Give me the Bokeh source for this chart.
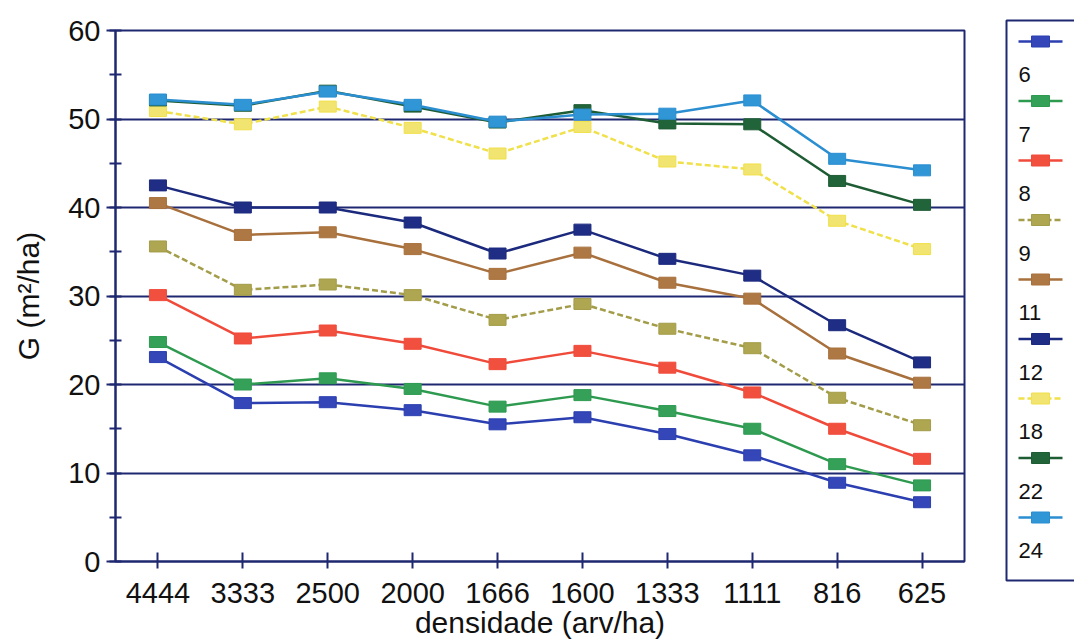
from bokeh.plotting import figure
from bokeh.layouts import row
from bokeh.models import Range1d, FactorRange, SingleIntervalTicker, BoxAnnotation, ColumnDataSource
from bokeh.embed import file_html
from bokeh.resources import INLINE
from bokeh.core.properties import value

# ---- data ----
densidade = ["4444", "3333", "2500", "2000", "1666", "1600", "1333", "1111", "816", "625"]
idades = ["6", "7", "8", "9", "11", "12", "18", "22", "24"]

g6 = [23.1, 17.9, 18.0, 17.1, 15.5, 16.3, 14.4, 12.0, 8.9, 6.7]
g7 = [24.8, 20.0, 20.7, 19.5, 17.5, 18.8, 17.0, 15.0, 11.0, 8.6]
g8 = [30.1, 25.2, 26.1, 24.6, 22.3, 23.8, 21.9, 19.1, 15.0, 11.6]
g9 = [35.6, 30.7, 31.3, 30.1, 27.3, 29.1, 26.3, 24.1, 18.5, 15.4]
g11 = [40.5, 36.9, 37.2, 35.3, 32.5, 34.9, 31.5, 29.7, 23.5, 20.2]
g12 = [42.5, 40.0, 40.0, 38.3, 34.8, 37.5, 34.2, 32.3, 26.7, 22.5]
g18 = [50.9, 49.4, 51.4, 49.0, 46.1, 49.1, 45.2, 44.3, 38.5, 35.3]
g22 = [52.1, 51.5, 53.2, 51.4, 49.6, 51.0, 49.5, 49.4, 43.0, 40.3]
g24 = [52.2, 51.6, 53.1, 51.6, 49.7, 50.5, 50.6, 52.1, 45.5, 44.2]

series = [g6, g7, g8, g9, g11, g12, g18, g22, g24]
line_colors = ["#2b3fb0", "#2e9a50", "#f04a3a", "#a39c48", "#a8703c", "#1c2a7e", "#f0e04a", "#1e5c34", "#2a8ed0"]
fill_colors = ["#3446b8", "#34a058", "#f2503f", "#aea650", "#ae7844", "#1f2d85", "#f2e470", "#22643a", "#3096d6"]
dashes = ["solid", "solid", "solid", "6 3", "solid", "solid", "6 3", "solid", "solid"]

NAVY = "#1e2870"
FONT = "Liberation Sans"
TOP, BOTTOM = 30, 563

p = figure(width=985, height=641,
           x_range=FactorRange(factors=densidade, range_padding=0),
           y_range=Range1d(0, 60),
           output_backend="svg", toolbar_location=None,
           min_border_left=115, min_border_right=21,
           min_border_top=TOP, min_border_bottom=641 - BOTTOM)
p.frame_align = False
p.background_fill_color = "white"
p.border_fill_color = "white"
p.outline_line_color = NAVY
p.outline_line_width = 2

p.xgrid.visible = False
p.ygrid.grid_line_color = NAVY
p.ygrid.grid_line_width = 2

p.yaxis.ticker = SingleIntervalTicker(interval=10, num_minor_ticks=2)
p.axis.axis_line_color = NAVY
p.axis.axis_line_width = 2
p.axis.major_tick_line_color = NAVY
p.axis.minor_tick_line_color = NAVY
p.axis.major_tick_line_width = 2
p.axis.minor_tick_line_width = 2

p.yaxis.major_tick_out = 9
p.yaxis.major_tick_in = 0
p.yaxis.minor_tick_out = 6
p.yaxis.minor_tick_in = 6
p.xaxis.major_tick_in = 9
p.xaxis.major_tick_out = 7

p.axis.major_label_text_font = FONT
p.axis.major_label_text_font_size = "29px"
p.axis.major_label_text_color = "#111111"
p.axis.axis_label_text_font = FONT
p.axis.axis_label_text_font_size = "30px"
p.axis.axis_label_text_font_style = "normal"
p.axis.axis_label_text_color = "#111111"

p.xaxis.axis_label = "densidade (arv/ha)"
p.yaxis.axis_label = "G (m²/ha)"
p.yaxis.major_label_standoff = 6
p.yaxis.axis_label_standoff = 20
p.xaxis.major_label_standoff = 14
p.xaxis.axis_label_standoff = 0

for vals, lc, fc, d in zip(series, line_colors, fill_colors, dashes):
    src = ColumnDataSource(dict(x=densidade, y=vals))
    p.line("x", "y", source=src, line_color=lc, line_width=2.5, line_dash=d)
    p.rect("x", "y", source=src, width=17, height=11, width_units="screen", height_units="screen",
           fill_color=fc, line_color=lc, line_width=1)

# ---- legend panel (its own frame covers the whole panel; data units = pixels) ----
lg = figure(width=89, height=641, x_range=Range1d(985, 1074), y_range=Range1d(641, 0),
            output_backend="svg", toolbar_location=None,
            x_axis_type=None, y_axis_type=None, min_border=0)
lg.frame_align = False
lg.outline_line_color = None
lg.grid.visible = False
lg.background_fill_color = "white"
lg.border_fill_color = "white"
lg.add_layout(BoxAnnotation(left=1006, right=1090, top=20, bottom=580,
                            fill_alpha=0, line_color=NAVY, line_alpha=1.0, line_width=2))

step = 59.5
for i, (name, lc, fc, d) in enumerate(zip(idades, line_colors, fill_colors, dashes)):
    yg = 41 + step * i
    yl = 74 + step * i
    lg.line([1018, 1062], [yg, yg], line_color=lc, line_width=2.5, line_dash=d)
    lg.rect([1040], [yg], width=18, height=11, width_units="screen", height_units="screen",
            fill_color=fc, line_color=lc, line_width=1)
    lg.text([1018], [yl], text=[name], text_font=value(FONT), text_font_size="22px",
            text_baseline="middle", text_align="left", text_color="#111111")

layout = row(p, lg, spacing=0)
open("out.html", "w").write(file_html(layout, INLINE))
